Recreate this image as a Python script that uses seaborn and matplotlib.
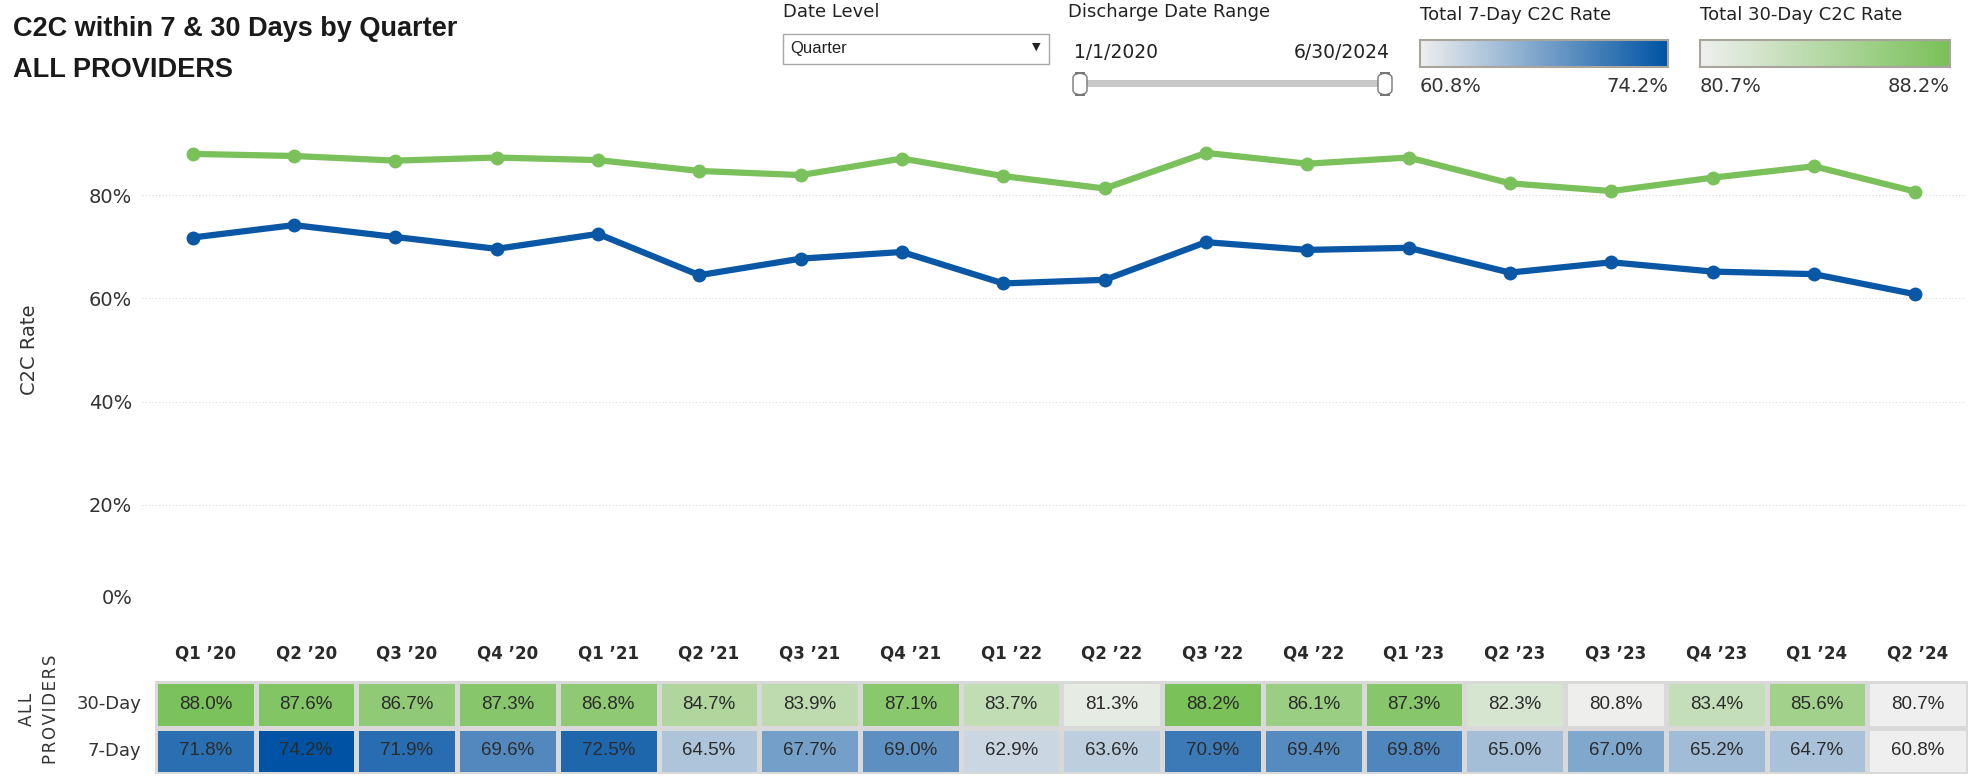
import numpy as np
import pandas as pd
import matplotlib
matplotlib.use('Agg')
import matplotlib.pyplot as plt
import seaborn as sns
from matplotlib.colors import LinearSegmentedColormap
from matplotlib.patches import Rectangle, FancyBboxPatch
from matplotlib.ticker import PercentFormatter

quarters = ["Q1 \u201920", "Q2 \u201920", "Q3 \u201920", "Q4 \u201920",
            "Q1 \u201921", "Q2 \u201921", "Q3 \u201921", "Q4 \u201921",
            "Q1 \u201922", "Q2 \u201922", "Q3 \u201922", "Q4 \u201922",
            "Q1 \u201923", "Q2 \u201923", "Q3 \u201923", "Q4 \u201923",
            "Q1 \u201924", "Q2 \u201924"]
rate_30 = [88.0, 87.6, 86.7, 87.3, 86.8, 84.7, 83.9, 87.1, 83.7,
           81.3, 88.2, 86.1, 87.3, 82.3, 80.8, 83.4, 85.6, 80.7]
rate_7 = [71.8, 74.2, 71.9, 69.6, 72.5, 64.5, 67.7, 69.0, 62.9,
          63.6, 70.9, 69.4, 69.8, 65.0, 67.0, 65.2, 64.7, 60.8]
row_labels = ["30-Day", "7-Day"]

BLUE = '#0a57a6'
GREEN = '#7bc15b'
LOW = '#efefef'
cmap_7 = LinearSegmentedColormap.from_list('b7', [LOW, '#0053a4'])
cmap_30 = LinearSegmentedColormap.from_list('g30', [LOW, '#79c158'])

sns.set_theme(style='white')
plt.rcParams['font.family'] = ['DejaVu Sans']
NARROW = ['Liberation Sans', 'DejaVu Sans']

W, H = 1974, 779
fig = plt.figure(figsize=(W / 100, H / 100), dpi=100)


def fx(x):
    return x / W


def fy(y):
    return 1 - y / H


# line chart
ax = fig.add_axes([fx(142), fy(608), fx(1966) - fx(142), fy(92) - fy(608)])
long = pd.DataFrame({
    'idx': list(range(len(quarters))) * 2,
    'rate': rate_30 + rate_7,
    'series': ['30-Day'] * len(quarters) + ['7-Day'] * len(quarters),
})
sns.lineplot(data=long, x='idx', y='rate', hue='series',
             palette={'30-Day': GREEN, '7-Day': BLUE},
             marker='o', markersize=10, markeredgewidth=0,
             linewidth=4.5, legend=False, sort=False, ax=ax)
ax.set_xlim(-0.5, len(quarters) - 0.5)
ax.set_ylim(0, 100)
ax.set_yticks([0, 20, 40, 60, 80])
ax.yaxis.set_major_formatter(PercentFormatter(decimals=0))
ax.tick_params(axis='y', length=0, labelsize=14, labelcolor='#333333', pad=7)
ax.set_xticks([])
ax.set_xlabel('')
ax.set_ylabel('C2C Rate', fontsize=14, color='#333333', labelpad=36)
ax.yaxis.grid(True, color='#dcdcdc', linestyle=(0, (1, 2)), linewidth=0.8)
ax.set_axisbelow(True)
for s in ax.spines.values():
    s.set_visible(False)
ax.get_yticklabels()[0].set_va('bottom')

# table under the chart
hax = fig.add_axes([fx(155), fy(774), fx(1968) - fx(155), fy(681) - fy(774)])
vals = np.array([rate_30, rate_7])
annot = np.array([[f'{v:.1f}%' for v in row] for row in vals])
grid = pd.DataFrame(vals, index=row_labels, columns=quarters)
mask_top = np.array([[False] * len(quarters), [True] * len(quarters)])
common = dict(annot=annot, fmt='', cbar=False, linewidths=2.5, linecolor='#d9d9d9',
              annot_kws={'color': '#2b2b2b', 'fontsize': 13.5, 'family': NARROW}, ax=hax)
sns.heatmap(grid, mask=mask_top, cmap=cmap_30, vmin=min(rate_30), vmax=max(rate_30), **common)
sns.heatmap(grid, mask=~mask_top, cmap=cmap_7, vmin=min(rate_7), vmax=max(rate_7), **common)
hax.xaxis.tick_top()
hax.set_xticklabels(quarters, fontsize=12, fontweight='bold', color='#2a2a2a')
hax.set_yticklabels(row_labels, rotation=0, fontsize=13, color='#333333')
hax.tick_params(axis='x', length=0, pad=13)
hax.tick_params(axis='y', length=0, pad=10)
hax.set_xlabel('')
hax.set_ylabel('')
hs = '\u200a'
fig.text(fx(39), fy(709), hs.join('ALL') + '\n' + hs.join('PROVIDERS'),
         rotation=90, ha='center', va='center', fontsize=12, color='#333333',
         multialignment='center', linespacing=1.4)

# titles
fig.text(fx(13), fy(29), 'C2C within 7 & 30 Days by Quarter', fontsize=19.5,
         fontweight='bold', family=NARROW, color='#1a1a1a', va='center')
fig.text(fx(13), fy(70), 'ALL PROVIDERS', fontsize=19.5, fontweight='bold',
         family=NARROW, color='#1a1a1a', va='center')

# filter controls
ctl = dict(fontsize=13, color='#222222', va='center')
fig.text(fx(783), fy(12), 'Date Level', **ctl)
fig.patches.append(Rectangle((fx(783), fy(64)), fx(1049) - fx(783), fy(34) - fy(64),
                             transform=fig.transFigure, facecolor='white',
                             edgecolor='#a8a8a8', linewidth=1))
fig.text(fx(790), fy(49), 'Quarter', fontsize=12, family=NARROW, color='#222222', va='center')
fig.text(fx(1036), fy(47), '\u25bc', fontsize=8, color='#222222', va='center', ha='center')

fig.text(fx(1068), fy(12), 'Discharge Date Range', **ctl)
fig.text(fx(1074), fy(53), '1/1/2020', fontsize=13.5, color='#222222', va='center')
fig.text(fx(1390), fy(53), '6/30/2024', ha='right', fontsize=13.5,
         color='#222222', va='center')
fig.patches.append(Rectangle((fx(1082), fy(87)), fx(1384) - fx(1082), fy(80) - fy(87),
                             transform=fig.transFigure, facecolor='#c8c8c8', edgecolor='none'))
for hx in (1080, 1385):
    fig.patches.append(FancyBboxPatch((fx(hx - 7), fy(95)), fx(14), fy(73) - fy(95),
                                      boxstyle='round,pad=0,rounding_size=0.006',
                                      transform=fig.transFigure, facecolor='white',
                                      edgecolor='#777777', linewidth=1))

legends = [('Total 7-Day C2C Rate', 1420, 1668, cmap_7, rate_7),
           ('Total 30-Day C2C Rate', 1700, 1950, cmap_30, rate_30)]
for title, x0, x1, cm, series in legends:
    fig.text(fx(x0), fy(15), title, **ctl)
    cax = fig.add_axes([fx(x0), fy(67), fx(x1) - fx(x0), fy(40) - fy(67)])
    cax.imshow(np.linspace(0, 1, 256)[None, :], cmap=cm, aspect='auto')
    cax.set_xticks([])
    cax.set_yticks([])
    for s in cax.spines.values():
        s.set_visible(True)
        s.set_edgecolor('#aaa59c')
        s.set_linewidth(1.5)
    fig.text(fx(x0), fy(87), f'{min(series):.1f}%', fontsize=14, color='#333333', va='center')
    fig.text(fx(x1), fy(87), f'{max(series):.1f}%', fontsize=14, color='#333333',
             va='center', ha='right')

fig.savefig('out.png', dpi=100, facecolor='white')
